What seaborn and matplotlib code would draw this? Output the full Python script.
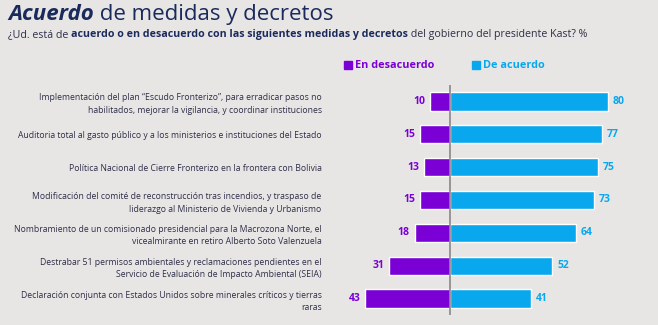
import matplotlib
matplotlib.use("Agg")
import matplotlib.pyplot as plt
import seaborn as sns
import pandas as pd
import numpy as np

categories = [
    "Implementación del plan “Escudo Fronterizo”, para erradicar pasos no\nhabilitados, mejorar la vigilancia, y coordinar instituciones",
    "Auditoria total al gasto público y a los ministerios e instituciones del Estado",
    "Política Nacional de Cierre Fronterizo en la frontera con Bolivia",
    "Modificación del comité de reconstrucción tras incendios, y traspaso de\nliderazgo al Ministerio de Vivienda y Urbanismo",
    "Nombramiento de un comisionado presidencial para la Macrozona Norte, el\nvicealmirante en retiro Alberto Soto Valenzuela",
    "Destrabar 51 permisos ambientales y reclamaciones pendientes en el\nServicio de Evaluación de Impacto Ambiental (SEIA)",
    "Declaración conjunta con Estados Unidos sobre minerales críticos y tierras\nraras",
]
desacuerdo = [10, 15, 13, 15, 18, 31, 43]
acuerdo = [80, 77, 75, 73, 64, 52, 41]
series_names = ["En desacuerdo", "De acuerdo"]

PURPLE = "#7a00d6"
BLUE = "#09a8ee"
BG = "#e8e6e4"
NAVY = "#1b2a5c"
TXT = "#2e2e48"

sns.set_theme(style="white")
plt.rcParams["font.family"] = ["Open Sans", "DejaVu Sans"]

W, H = 658, 325
fig = plt.figure(figsize=(W / 100, H / 100), dpi=100, facecolor=BG)
ax = fig.add_axes([330 / W, 10 / H, 328 / W, 230 / H])
ax.set_facecolor(BG)

df = pd.DataFrame({
    "cat": categories * 2,
    "serie": [series_names[0]] * len(categories) + [series_names[1]] * len(categories),
    "val": [-v for v in desacuerdo] + list(acuerdo),
})
sns.barplot(data=df, x="val", y="cat", hue="serie", dodge=False, orient="h",
            palette={series_names[0]: PURPLE, series_names[1]: BLUE},
            width=0.56, ax=ax, legend=False, saturation=1)

ppu = 1.97
ax.set_xlim(-120 / ppu, 208 / ppu)
ax.set_ylim(6.5, -0.5)
for s in ax.spines.values():
    s.set_visible(False)
ax.axvline(0, color="#7f7f7f", lw=1.1, zorder=5)
ax.set_xticks([])
ax.set_xlabel("")
ax.set_ylabel("")
ax.tick_params(axis="y", length=0, pad=6, labelsize=6.2, labelcolor=TXT)
for lab in ax.get_yticklabels():
    lab.set_linespacing(1.5)

for i, (d, a) in enumerate(zip(desacuerdo, acuerdo)):
    ax.annotate(str(d), (-d, i), xytext=(-3.5, 0), textcoords="offset points",
                ha="right", va="center", fontsize=7.5, fontweight="bold", color=PURPLE)
    ax.annotate(str(a), (a, i), xytext=(3.5, 0), textcoords="offset points",
                ha="left", va="center", fontsize=7.5, fontweight="bold", color=BLUE)

# Legend
def px(x, y):
    return x / W, 1 - y / H

fig.patches.append(plt.Rectangle(px(344, 69), 8 / W, 8 / H, transform=fig.transFigure,
                                 color=PURPLE, figure=fig))
fig.text(*px(355, 65), "En desacuerdo", color=PURPLE, fontsize=7.8, fontweight="bold", va="center")
fig.patches.append(plt.Rectangle(px(472, 69), 8 / W, 8 / H, transform=fig.transFigure,
                                 color=BLUE, figure=fig))
fig.text(*px(483, 65), "De acuerdo", color=BLUE, fontsize=7.8, fontweight="bold", va="center")

# Title
renderer = fig.canvas.get_renderer()
def seq_text(x, y, parts, size):
    cx = x
    for txt, kw in parts:
        t = fig.text(cx / W, 1 - y / H, txt, fontsize=size, va="baseline", color=kw.get("color", NAVY),
                     fontweight=kw.get("weight", "normal"), fontstyle=kw.get("style", "normal"))
        bb = t.get_window_extent(renderer)
        cx += bb.width

seq_text(8, 20, [("Acuerdo", {"weight": "bold", "style": "italic"}),
                 (" de medidas y decretos", {})], 16)
seq_text(8, 37, [("¿Ud. está de ", {"color": TXT}),
                 ("acuerdo o en desacuerdo con las siguientes medidas y decretos", {"weight": "bold", "color": NAVY}),
                 (" del gobierno del presidente Kast? %", {"color": TXT})], 7.7)

fig.savefig("out.png", dpi=100, facecolor=BG)
